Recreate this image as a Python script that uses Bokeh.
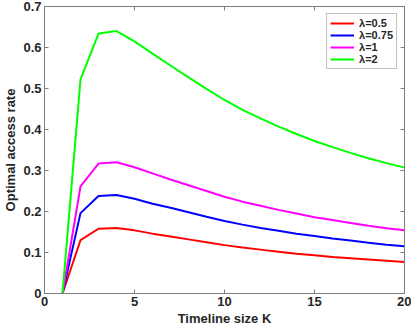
from bokeh.plotting import figure
from bokeh.models import LinearAxis, FixedTicker, CustomJSTickFormatter, Range1d, Legend, LegendItem
from bokeh.embed import file_html
from bokeh.resources import INLINE

K = list(range(1, 21))
red_05 = [0, 0.130, 0.158, 0.160, 0.154, 0.146, 0.139, 0.132, 0.125, 0.118,
          0.112, 0.107, 0.102, 0.097, 0.093, 0.089, 0.086, 0.083, 0.080, 0.077]
blue_075 = [0, 0.196, 0.238, 0.240, 0.231, 0.219, 0.209, 0.198, 0.187, 0.177,
            0.168, 0.160, 0.153, 0.146, 0.140, 0.134, 0.129, 0.124, 0.119, 0.115]
mag_1 = [0, 0.261, 0.317, 0.320, 0.308, 0.293, 0.278, 0.264, 0.250, 0.236,
         0.224, 0.214, 0.204, 0.195, 0.186, 0.179, 0.172, 0.165, 0.159, 0.154]
green_2 = [0, 0.522, 0.634, 0.640, 0.615, 0.585, 0.556, 0.527, 0.499, 0.472,
           0.448, 0.427, 0.407, 0.389, 0.372, 0.357, 0.343, 0.330, 0.318, 0.307]
labels = ["λ=0.5", "λ=0.75", "λ=1", "λ=2"]
colors = ["#ff0000", "#0000ff", "#ff00ff", "#00ff00"]
x_ticks = [0, 5, 10, 15, 20]
y_ticks = [0, 0.1, 0.2, 0.3, 0.4, 0.5, 0.6, 0.7]

FONT = "Liberation Sans"
AX = "#7f7f7f"
TXT = "#262626"

p = figure(frame_width=360, frame_height=287, output_backend="svg", toolbar_location=None,
           x_range=Range1d(0, 20), y_range=Range1d(0, 0.7),
           min_border_left=0, min_border_right=7, min_border_top=6, min_border_bottom=0,
           x_axis_label="Timeline size K", y_axis_label="Optimal access rate")
p.grid.visible = False
p.outline_line_color = AX
p.outline_line_width = 1
p.background_fill_color = "white"
p.border_fill_color = "white"

fmt = CustomJSTickFormatter(code="return Number(tick.toFixed(2)).toString();")
blank = CustomJSTickFormatter(code="return '';")

def style_axis(ax, ticks, show_labels=True):
    ax.ticker = FixedTicker(ticks=ticks)
    ax.formatter = fmt if show_labels else blank
    ax.axis_line_color = AX
    ax.major_tick_line_color = AX
    ax.major_tick_in = 4
    ax.major_tick_out = 0
    ax.minor_tick_line_color = None
    ax.major_label_text_font = FONT
    ax.major_label_text_font_style = "bold"
    ax.major_label_text_font_size = "13px"
    ax.major_label_text_color = TXT
    ax.major_label_standoff = 3 if show_labels else 0
    ax.axis_label_text_font = FONT
    ax.axis_label_text_font_style = "bold"
    ax.axis_label_text_font_size = "13px"
    ax.axis_label_text_color = TXT
    ax.axis_label_standoff = 2

style_axis(p.xaxis[0], x_ticks)
style_axis(p.yaxis[0], y_ticks)

top = LinearAxis()
style_axis(top, x_ticks, show_labels=False)
p.add_layout(top, "above")
right = LinearAxis()
style_axis(right, y_ticks, show_labels=False)
p.add_layout(right, "right")

items = []
for ys, lab, col in zip([red_05, blue_075, mag_1, green_2], labels, colors):
    r = p.line(K, ys, line_color=col, line_width=2)
    items.append(LegendItem(label=lab, renderers=[r]))

legend = Legend(items=items, location="top_right")
legend.label_text_font = FONT
legend.label_text_font_style = "bold"
legend.label_text_font_size = "11px"
legend.label_text_color = TXT
legend.label_height = 12
legend.label_standoff = 5
legend.glyph_width = 24
legend.glyph_height = 12
legend.spacing = 0
legend.padding = 3
legend.margin = 7
legend.border_line_color = AX
legend.background_fill_alpha = 1
p.add_layout(legend)

open("out.html", "w").write(file_html(p, INLINE))
